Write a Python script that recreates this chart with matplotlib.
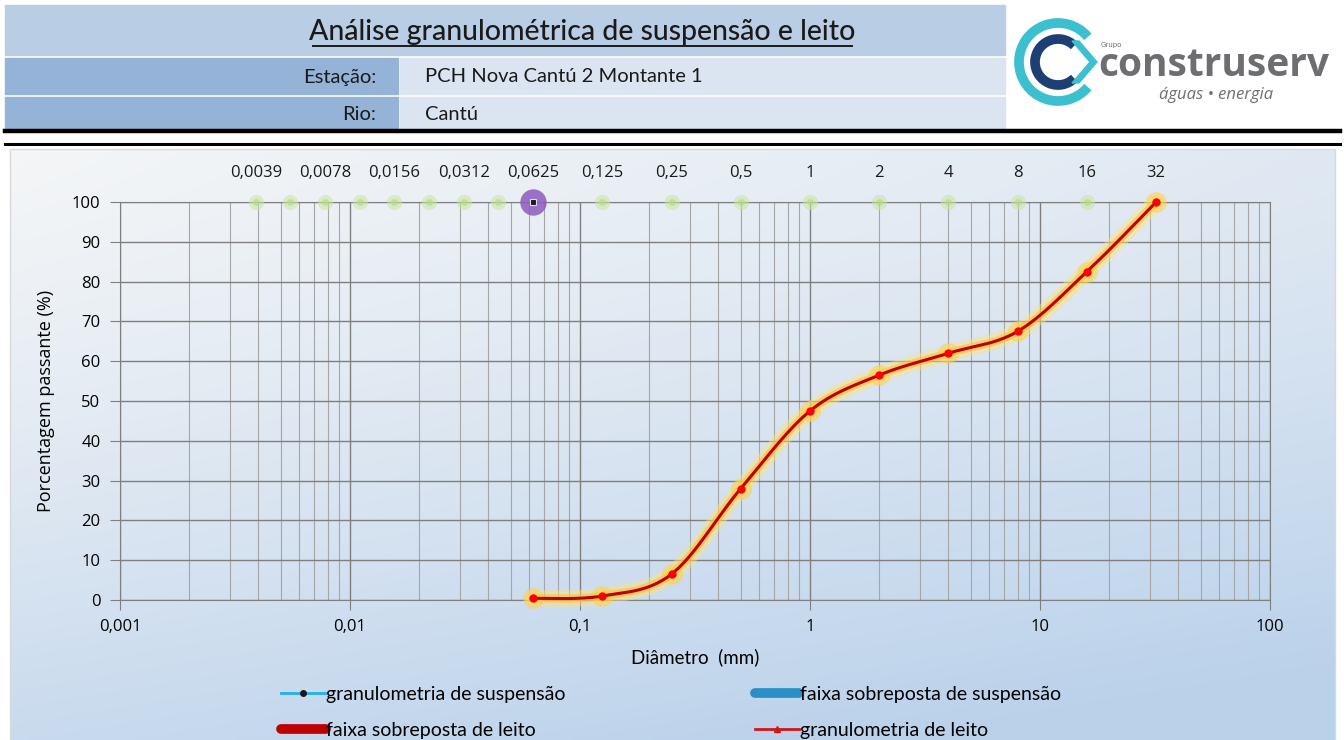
import numpy as np
import matplotlib.pyplot as plt
from matplotlib.patches import Rectangle, Arc, Polygon
from matplotlib.lines import Line2D
from matplotlib.ticker import FixedLocator, FuncFormatter, NullFormatter

# data
diam_leito = [0.0625, 0.125, 0.25, 0.5, 1, 2, 4, 8, 16, 32]
pass_leito = [0.4, 1.0, 6.5, 28.0, 47.5, 56.5, 62.0, 67.5, 82.5, 100.0]
diam_susp = [0.0625]
pass_susp = [100.0]
sieves = [0.0039, 0.0055, 0.0078, 0.011, 0.0156, 0.022, 0.0312, 0.044,
          0.125, 0.25, 0.5, 1, 2, 4, 8, 16]
top_labels = [0.0039, 0.0078, 0.0156, 0.0312, 0.0625, 0.125, 0.25, 0.5,
              1, 2, 4, 8, 16, 32]
x_ticks = [0.001, 0.01, 0.1, 1, 10, 100]
y_ticks = [0, 10, 20, 30, 40, 50, 60, 70, 80, 90, 100]

title = "Análise granulométrica de suspensão e leito"
estacao = "PCH Nova Cantú 2 Montante 1"
rio = "Cantú"

W, H = 1344, 740
fig = plt.figure(figsize=(W / 100, H / 100), dpi=100)
fig.patch.set_facecolor("white")

# overlay axes in pixel coords (y down)
bg = fig.add_axes([0, 0, 1, 1])
bg.set_xlim(0, W)
bg.set_ylim(H, 0)
bg.axis("off")

# chart panel gradient
gx, gy = np.meshgrid(np.linspace(0, 1, 200), np.linspace(0, 1, 200))
t = np.clip(0.35 * gx + 0.75 * gy ** 1.3, 0, 1)
c0 = np.array([0.955, 0.962, 0.968])
c1 = np.array([0.73, 0.82, 0.92])
img = c0[None, None, :] * (1 - t[..., None]) + c1[None, None, :] * t[..., None]
bg.imshow(img, extent=[10, 1335, 740, 149], aspect="auto", zorder=0)
bg.add_patch(Rectangle((10, 149), 1325, 600, fill=False, ec="#d9d9d9", lw=1, zorder=1))

# header table
bg.add_patch(Rectangle((5, 5), 1000, 50, color="#b9cde5", zorder=1))
bg.add_patch(Rectangle((5, 58), 393, 36, color="#95b3d7", zorder=1))
bg.add_patch(Rectangle((400, 58), 605, 36, color="#dbe5f1", zorder=1))
bg.add_patch(Rectangle((5, 97), 393, 32, color="#95b3d7", zorder=1))
bg.add_patch(Rectangle((400, 97), 605, 32, color="#dbe5f1", zorder=1))
bg.plot([5, 1340], [131, 131], color="black", lw=3.2, zorder=2)
bg.plot([5, 1340], [143.5, 143.5], color="black", lw=2.2, zorder=2)

hfont = ["Lato", "DejaVu Sans"]
bg.text(582, 32, title, ha="center", va="center", fontsize=20.5, family=hfont,
        fontweight="medium", color="#1a1a1a", zorder=3)
bg.plot([313, 852], [46, 46], color="#1a1a1a", lw=1.4, zorder=3)
bg.text(376, 77, "Estação:", ha="right", va="center", fontsize=14.5, family=hfont, color="#1a1a1a")
bg.text(425, 77, estacao, ha="left", va="center", fontsize=14.5, family=hfont, color="#1a1a1a")
bg.text(376, 115, "Rio:", ha="right", va="center", fontsize=14.5, family=hfont, color="#1a1a1a")
bg.text(425, 115, rio, ha="left", va="center", fontsize=14.5, family=hfont, color="#1a1a1a")

# logo
bg.add_patch(Arc((1058, 62), 78, 78, theta1=40, theta2=320, color="#3cc0d0", lw=7, zorder=3))
bg.add_patch(Arc((1058, 62), 46, 46, theta1=45, theta2=315, color="#1d3f73", lw=7, zorder=3))
bg.add_patch(Polygon([[1072, 41], [1090, 62], [1072, 83], [1079, 83], [1097, 62], [1079, 41]],
                     closed=True, color="#3cc0d0", zorder=3))
bg.text(1101, 45, "Grupo", fontsize=5, color="#6d6e71", va="center", zorder=3)
bg.text(1098, 66, "construserv", fontsize=28, fontweight="bold", color="#6d6e71",
        va="center", ha="left", family=["Open Sans", "DejaVu Sans"], zorder=3)
bg.text(1216, 95, "águas • energia", fontsize=12, style="italic", color="#6d6e71",
        ha="center", va="center", family=["Open Sans", "DejaVu Sans"], zorder=3)

# chart axes
ax = fig.add_axes([120 / W, 1 - 600 / H, 1150 / W, 398 / H])
ax.set_facecolor("none")
ax.set_xscale("log")
ax.set_xlim(0.001, 100)
ax.set_ylim(0, 100)

ax.xaxis.set_major_locator(FixedLocator(x_ticks))
ax.xaxis.set_minor_locator(FixedLocator([m * 10.0 ** e for e in range(-3, 2) for m in range(2, 10)]))
ax.xaxis.set_minor_formatter(NullFormatter())
ax.xaxis.set_major_formatter(FuncFormatter(lambda v, p: ("%g" % v).replace(".", ",")))
ax.yaxis.set_major_locator(FixedLocator(y_ticks))
ax.grid(True, which="major", axis="both", color="#7f7f7f", lw=1)
ax.grid(True, which="minor", axis="x", color="#a6a6a6", lw=0.8)
for s in ax.spines.values():
    s.set_color("#7f7f7f")
ax.tick_params(which="major", length=7, color="#7f7f7f", labelsize=12, pad=7)
ax.tick_params(which="minor", length=0)
for lab in ax.get_xticklabels() + ax.get_yticklabels():
    lab.set_family(["Open Sans", "DejaVu Sans"])
ax.set_xlabel("Diâmetro  (mm)", fontsize=13.5, family=hfont, labelpad=9)
ax.set_ylabel("Porcentagem passante (%)", fontsize=13, family=["Open Sans", "DejaVu Sans"], labelpad=12)


# smooth line like spreadsheet "smoothed line": bezier in screen-like space
def smooth(xs, ys, n=30):
    u = np.log10(xs) * 230.0
    v = np.array(ys) * 3.98
    P = np.column_stack([u, v])
    Pe = np.vstack([P[0], P, P[-1]])
    out = []
    for i in range(len(P) - 1):
        p0, p1, p2, p3 = Pe[i], Pe[i + 1], Pe[i + 2], Pe[i + 3]
        c1 = p1 + (p2 - p0) / 6.0
        c2 = p2 - (p3 - p1) / 6.0
        tt = np.linspace(0, 1, n)[:, None]
        seg = ((1 - tt) ** 3) * p1 + 3 * ((1 - tt) ** 2) * tt * c1 + 3 * (1 - tt) * tt ** 2 * c2 + tt ** 3 * p2
        out.append(seg)
    out = np.vstack(out)
    return 10 ** (out[:, 0] / 230.0), out[:, 1] / 3.98


sx, sy = smooth(diam_leito, pass_leito)

# sieve reference markers (green glow)
ax.plot(sieves, [100] * len(sieves), ls="none", marker="o", ms=11, color="#c8e6a0",
        alpha=0.55, mec="none", clip_on=False, zorder=3)
ax.plot(sieves, [100] * len(sieves), ls="none", marker="o", ms=5, color="#b5da80",
        alpha=0.6, mec="none", clip_on=False, zorder=3)

# glow of bed curve
ax.plot(sx, sy, color="#ffe27a", lw=12, alpha=0.45, solid_capstyle="round", zorder=4, clip_on=False)
ax.plot(sx, sy, color="#ffbf20", lw=6, alpha=0.55, solid_capstyle="round", zorder=4, clip_on=False)
ax.plot(diam_leito, pass_leito, ls="none", marker="o", ms=15, color="#ffd040", alpha=0.5,
        mec="none", zorder=4, clip_on=False)
ax.plot(sx, sy, color="#c00000", lw=2.2, zorder=5, clip_on=False)
ax.plot(diam_leito, pass_leito, ls="none", marker="o", ms=6, color="#ff0000", mec="none",
        zorder=6, clip_on=False)

# suspension point
ax.plot(diam_susp, pass_susp, ls="none", marker="o", ms=19, color="#8e5ac0", alpha=0.85,
        mec="none", zorder=6, clip_on=False)
ax.plot(diam_susp, pass_susp, ls="none", marker="s", ms=5, color="#1a1a1a", mec="#dddddd",
        mew=0.8, zorder=7, clip_on=False)

for v in top_labels:
    ax.annotate(("%g" % v).replace(".", ","), (v, 100), xytext=(0, 21), textcoords="offset points",
                ha="center", va="center", fontsize=12, family=["Open Sans", "DejaVu Sans"],
                color="#1a1a1a", annotation_clip=False)

# legend
handles = [
    Line2D([], [], color="#1fb0f0", lw=2, marker="o", ms=4, mfc="#1a1a1a", mec="#1a1a1a"),
    Line2D([], [], color="#c00000", lw=7, solid_capstyle="round"),
    Line2D([], [], color="#2b8fc6", lw=7, solid_capstyle="round"),
    Line2D([], [], color="#d01818", lw=2, marker="^", ms=5, mfc="#d01818", mec="#d01818"),
]
labels = ["granulometria de suspensão", "faixa sobreposta de leito",
          "faixa sobreposta de suspensão", "granulometria de leito"]
leg = fig.legend(handles, labels, ncol=2, loc="upper left", bbox_to_anchor=(273 / W, 1 - 678 / H),
                 frameon=False, fontsize=14, handlelength=2.3, handletextpad=0.05,
                 columnspacing=9.7, labelspacing=1.0, borderaxespad=0)
for tx in leg.get_texts():
    tx.set_family(hfont)

fig.savefig("out.png", dpi=100)
